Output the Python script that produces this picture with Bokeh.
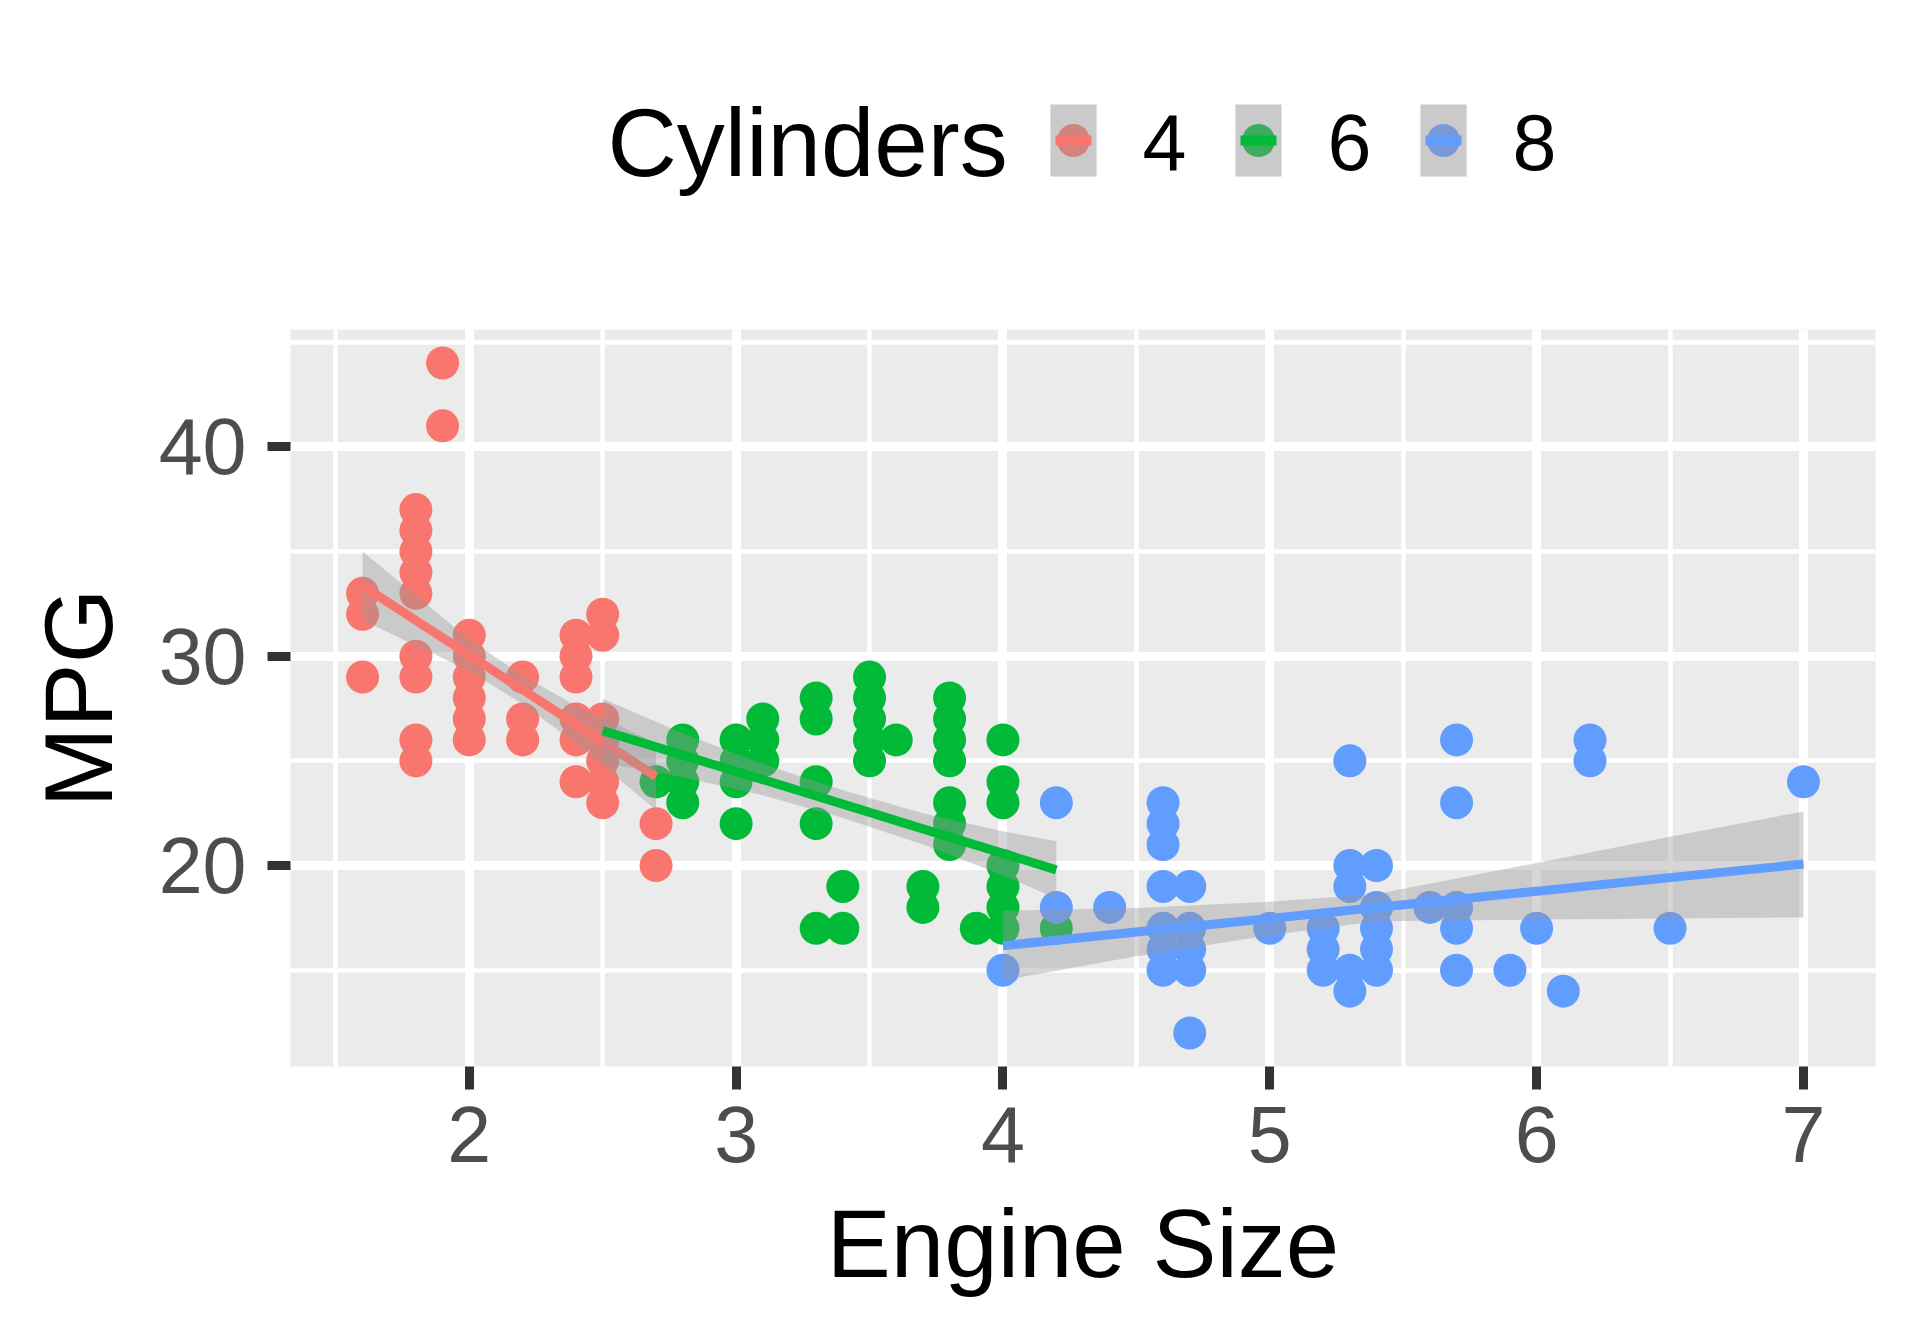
from bokeh.plotting import figure
from bokeh.models import Range1d, FixedTicker
from bokeh.layouts import column
from bokeh.embed import file_html
from bokeh.resources import INLINE
from bokeh.core.properties import value

FONT = "Liberation Sans"

# ---------------- data ----------------
cyl_labels = ["4", "6", "8"]
cyl_colors = ["#F8766D", "#00BA38", "#619CFF"]

cyl4_displ = [1.6, 1.6, 1.6,
              1.8, 1.8, 1.8, 1.8, 1.8, 1.8, 1.8, 1.8, 1.8,
              1.9, 1.9,
              2.0, 2.0, 2.0, 2.0, 2.0, 2.0,
              2.2, 2.2, 2.2,
              2.4, 2.4, 2.4, 2.4, 2.4, 2.4,
              2.5, 2.5, 2.5, 2.5, 2.5, 2.5, 2.5,
              2.7, 2.7]
cyl4_hwy = [33, 32, 29,
            37, 36, 35, 34, 33, 30, 29, 26, 25,
            44, 41,
            31, 30, 29, 28, 27, 26,
            29, 27, 26,
            31, 30, 29, 27, 26, 24,
            32, 31, 27, 26, 25, 24, 23,
            22, 20]

cyl6_displ = [2.5,
              2.7,
              2.8, 2.8, 2.8, 2.8,
              3.0, 3.0, 3.0, 3.0,
              3.1, 3.1, 3.1,
              3.3, 3.3, 3.3, 3.3, 3.3,
              3.4, 3.4,
              3.5, 3.5, 3.5, 3.5, 3.5,
              3.6,
              3.7, 3.7,
              3.8, 3.8, 3.8, 3.8, 3.8, 3.8, 3.8,
              3.9,
              4.0, 4.0, 4.0, 4.0, 4.0, 4.0, 4.0,
              4.2]
cyl6_hwy = [26,
            24,
            26, 25, 24, 23,
            26, 25, 24, 22,
            27, 26, 25,
            28, 27, 24, 22, 17,
            19, 17,
            29, 28, 27, 26, 25,
            26,
            19, 18,
            28, 27, 26, 25, 23, 22, 21,
            17,
            26, 24, 23, 20, 19, 18, 17,
            17]

cyl8_displ = [4.0,
              4.2, 4.2,
              4.4,
              4.6, 4.6, 4.6, 4.6, 4.6, 4.6, 4.6,
              4.7, 4.7, 4.7, 4.7, 4.7,
              5.0,
              5.2, 5.2, 5.2,
              5.3, 5.3, 5.3, 5.3, 5.3,
              5.4, 5.4, 5.4, 5.4, 5.4,
              5.6,
              5.7, 5.7, 5.7, 5.7, 5.7,
              5.9,
              6.0,
              6.1,
              6.2, 6.2,
              6.5,
              7.0]
cyl8_hwy = [15,
            23, 18,
            18,
            23, 22, 21, 19, 17, 16, 15,
            19, 17, 16, 15, 12,
            17,
            17, 16, 15,
            25, 20, 19, 15, 14,
            20, 18, 17, 16, 15,
            18,
            26, 23, 18, 17, 15,
            15,
            17,
            14,
            26, 25,
            17,
            24]

# linear fits with confidence band
fit4_x = [1.6, 1.8, 2.0, 2.2, 2.4, 2.7]
fit4_y = [33.36, 31.70, 30.05, 28.39, 26.73, 24.25]
fit4_lo = [31.72, 30.50, 29.30, 27.71, 25.83, 22.65]
fit4_hi = [35.00, 32.90, 30.80, 29.07, 27.63, 25.85]

fit6_x = [2.5, 2.8, 3.1, 3.4, 3.7, 4.0, 4.2]
fit6_y = [26.44, 25.27, 24.10, 22.93, 21.75, 20.58, 19.79]
fit6_lo = [24.92, 24.22, 23.35, 22.27, 21.00, 19.53, 18.42]
fit6_hi = [27.96, 26.32, 24.85, 23.59, 22.50, 21.63, 21.16]

fit8_x = [4.0, 4.5, 5.0, 5.4, 6.0, 6.5, 7.0]
fit8_y = [16.17, 16.82, 17.47, 17.99, 18.77, 19.42, 20.07]
fit8_lo = [14.51, 15.67, 16.67, 17.34, 17.42, 17.47, 17.52]
fit8_hi = [17.84, 17.97, 18.27, 18.64, 20.12, 21.37, 22.58]

x_ticks = [2, 3, 4, 5, 6, 7]
x_minor = [1.5, 2.5, 3.5, 4.5, 5.5, 6.5]
y_ticks = [20, 30, 40]
y_minor = [15, 25, 35, 45]

# ---------------- layout constants (pixels) ----------------
W = 1912
LEFT, RIGHT = 290, 37
FRAME_L, FRAME_R = LEFT, W - RIGHT
LEG_H = 258

# ---------------- main plot ----------------
p = figure(width=W, height=1078,
           x_range=Range1d(1.33, 7.27), y_range=Range1d(10.4, 45.6),
           output_backend="svg", toolbar_location=None,
           min_border_left=LEFT, min_border_right=RIGHT,
           min_border_top=71, min_border_bottom=270)
p.background_fill_color = "#EBEBEB"
p.border_fill_color = "white"
p.outline_line_color = None

p.xaxis.ticker = FixedTicker(ticks=x_ticks, minor_ticks=x_minor)
p.yaxis.ticker = FixedTicker(ticks=y_ticks, minor_ticks=y_minor)
p.xaxis.axis_label = "Engine Size"
p.yaxis.axis_label = "MPG"

for ax in (p.xaxis[0], p.yaxis[0]):
    ax.axis_line_color = None
    ax.major_tick_line_color = "#333333"
    ax.major_tick_line_width = 9
    ax.major_tick_out = 23
    ax.major_tick_in = 0
    ax.minor_tick_out = 0
    ax.minor_tick_in = 0
    ax.minor_tick_line_color = None
    ax.major_label_text_font = FONT
    ax.major_label_text_font_size = "79px"
    ax.major_label_text_color = "#4D4D4D"
    ax.axis_label_text_font = FONT
    ax.axis_label_text_font_size = "96px"
    ax.axis_label_text_font_style = "normal"
    ax.axis_label_text_color = "black"

p.xaxis.major_label_standoff = 17
p.xaxis.axis_label_standoff = 25
p.yaxis.major_label_standoff = 21
p.yaxis.axis_label_standoff = 24

for g in (p.xgrid[0], p.ygrid[0]):
    g.grid_line_color = "white"
    g.grid_line_width = 9
    g.minor_grid_line_color = "white"
    g.minor_grid_line_width = 4.5

# points (green first so red sits on top where they meet, blue last)
p.scatter(cyl6_displ, cyl6_hwy, size=33, color=cyl_colors[1], line_color=None)
p.scatter(cyl4_displ, cyl4_hwy, size=33, color=cyl_colors[0], line_color=None)
p.scatter(cyl8_displ, cyl8_hwy, size=33, color=cyl_colors[2], line_color=None)

for fx, fy, flo, fhi, col in ((fit4_x, fit4_y, fit4_lo, fit4_hi, cyl_colors[0]),
                              (fit6_x, fit6_y, fit6_lo, fit6_hi, cyl_colors[1]),
                              (fit8_x, fit8_y, fit8_lo, fit8_hi, cyl_colors[2])):
    p.varea(x=fx, y1=flo, y2=fhi, fill_color="#999999", fill_alpha=0.4)
    p.line(fx, fy, line_color=col, line_width=9)

# ---------------- legend strip (pixel coordinates of the page) ----------------
lf = figure(width=W, height=LEG_H, title=None,
            x_range=Range1d(FRAME_L, FRAME_R), y_range=Range1d(LEG_H, 0),
            output_backend="svg", toolbar_location=None,
            x_axis_location=None, y_axis_location=None,
            min_border_left=LEFT, min_border_right=RIGHT,
            min_border_top=0, min_border_bottom=0)
lf.outline_line_color = None
lf.grid.visible = False
lf.background_fill_color = "white"
lf.border_fill_color = "white"

key_left = [1050, 1235, 1420]
key_w = 46
key_top, key_bot = 104, 176
key_cy = 140
key_cx = [k + key_w / 2 for k in key_left]
key_r = [k + key_w for k in key_left]

lf.quad(left=key_left, right=key_r, top=key_top, bottom=key_bot,
        fill_color="#EBEBEB", line_color=None)
lf.scatter(key_cx, [key_cy] * 3, size=33, color=cyl_colors, line_color=None)
lf.quad(left=key_left, right=key_r, top=key_top, bottom=key_bot,
        fill_color="#999999", fill_alpha=0.4, line_color=None)
lf.segment(x0=[k + 5 for k in key_left], x1=[k + key_w - 5 for k in key_left],
           y0=[key_cy] * 3, y1=[key_cy] * 3, line_color=cyl_colors, line_width=10)

lf.text(x=[607], y=[142], text=["Cylinders"], text_font=value(FONT),
        text_font_size=value("96px"), text_color="black",
        text_align="left", text_baseline="alphabetic")
lf.text(x=[k + 92 for k in key_left], y=[142] * 3, text=cyl_labels, text_font=value(FONT),
        text_font_size=value("79px"), text_color="black",
        text_align="left", text_baseline="alphabetic")

layout = column(lf, p, spacing=0)
open("out.html", "w").write(file_html(layout, INLINE))
